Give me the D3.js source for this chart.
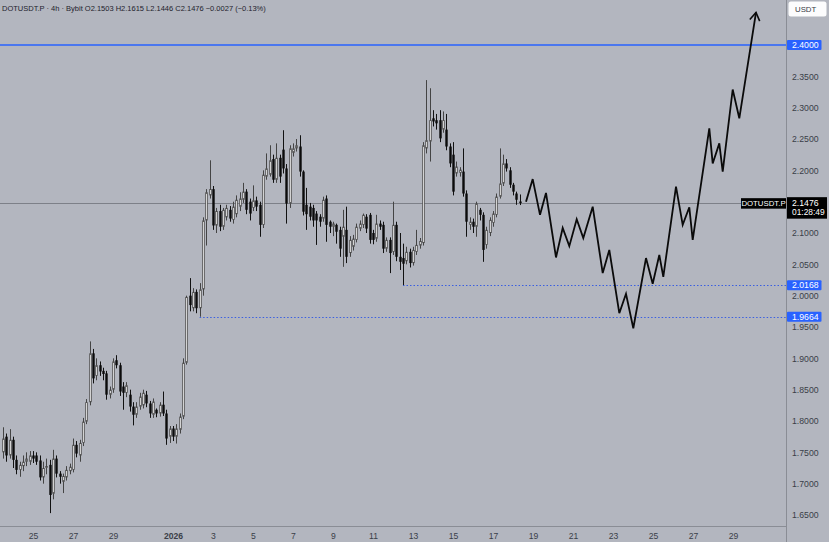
<!DOCTYPE html>
<html><head><meta charset="utf-8">
<script src="https://cdn.jsdelivr.net/npm/d3@7"></script>
<style>
html,body{margin:0;padding:0;background:#b3b6bf;}
svg{display:block;font-family:"Liberation Sans",Arial,sans-serif;}
</style></head><body>
<svg id="c" width="829" height="542"></svg>
<script>
// ---------- data ----------
const symbol = "DOTUSDT.P";
const headerText = "DOTUSDT.P · 4h · Bybit  O2.1503 H2.1615 L2.1446 C2.1476 −0.0027 (−0.13%)";
const firstCandle = "2025-12-23T12:00:00Z";
const candleHours = 4;
const opens = [1.750,1.775,1.745,1.770,1.738,1.722,1.728,1.735,1.735,1.745,1.745,1.737,1.710,1.725,1.730,1.684,1.740,1.716,1.703,1.710,
1.720,1.722,1.762,1.745,1.765,1.799,1.830,1.908,1.872,1.889,1.880,1.876,1.842,1.850,1.897,1.889,1.855,1.845,1.842,1.823,
1.810,1.823,1.825,1.842,1.828,1.810,1.818,1.812,1.826,1.812,1.775,1.788,1.775,1.786,1.807,1.893,2.000,1.980,2.006,1.980,
2.010,2.120,2.160,2.170,2.112,2.135,2.110,2.125,2.137,2.121,2.130,2.142,2.153,2.166,2.150,2.140,2.152,2.145,2.113,2.190,
2.193,2.218,2.185,2.220,2.233,2.203,2.147,2.228,2.235,2.238,2.198,2.145,2.142,2.140,2.131,2.126,2.123,2.155,2.118,2.110,
2.113,2.105,2.094,2.105,2.068,2.078,2.089,2.107,2.113,2.126,2.129,2.100,2.091,2.115,2.113,2.075,2.089,2.070,2.113,2.062,
2.060,2.055,2.070,2.052,2.070,2.080,2.084,2.235,2.246,2.283,2.280,2.280,2.265,2.265,2.238,2.225,2.195,2.196,2.198,2.163,
2.113,2.118,2.110,2.137,2.129,2.081,2.100,2.116,2.129,2.158,2.179,2.211,2.200,2.177,2.163,2.1503];
const highs = [1.790,1.780,1.787,1.775,1.745,1.735,1.745,1.750,1.752,1.752,1.750,1.745,1.735,1.740,1.738,1.754,1.745,1.720,1.716,1.728,
1.732,1.772,1.768,1.770,1.805,1.835,1.927,1.915,1.900,1.895,1.885,1.880,1.855,1.900,1.905,1.893,1.862,1.862,1.850,1.830,
1.830,1.845,1.850,1.848,1.832,1.836,1.820,1.830,1.847,1.818,1.792,1.792,1.795,1.812,1.900,2.000,2.028,2.012,2.010,2.020,
2.125,2.170,2.216,2.175,2.140,2.145,2.140,2.145,2.143,2.150,2.160,2.165,2.180,2.170,2.155,2.176,2.158,2.150,2.200,2.227,
2.240,2.225,2.243,2.225,2.264,2.210,2.240,2.243,2.250,2.256,2.200,2.172,2.148,2.145,2.135,2.130,2.158,2.160,2.120,2.118,
2.115,2.110,2.137,2.142,2.095,2.097,2.115,2.120,2.131,2.130,2.132,2.105,2.129,2.120,2.118,2.093,2.093,2.150,2.118,2.100,
2.083,2.078,2.075,2.078,2.105,2.092,2.245,2.344,2.331,2.296,2.290,2.296,2.294,2.290,2.243,2.245,2.214,2.205,2.235,2.168,
2.125,2.123,2.150,2.140,2.133,2.110,2.125,2.135,2.163,2.235,2.225,2.218,2.205,2.180,2.166,2.1615];
const lows = [1.740,1.735,1.740,1.725,1.715,1.711,1.720,1.728,1.730,1.733,1.730,1.705,1.700,1.715,1.653,1.675,1.710,1.700,1.685,1.705,
1.715,1.718,1.742,1.735,1.760,1.795,1.825,1.860,1.865,1.872,1.865,1.834,1.836,1.845,1.884,1.840,1.818,1.838,1.815,1.793,
1.805,1.818,1.820,1.822,1.805,1.805,1.806,1.807,1.808,1.762,1.765,1.768,1.764,1.780,1.803,1.890,1.975,1.975,1.972,1.9664,
2.000,2.080,2.155,2.105,2.100,2.103,2.105,2.120,2.118,2.115,2.125,2.135,2.148,2.130,2.120,2.135,2.135,2.094,2.108,2.185,
2.190,2.180,2.180,2.180,2.195,2.115,2.140,2.222,2.230,2.190,2.128,2.105,2.120,2.110,2.081,2.110,2.118,2.086,2.100,2.095,
2.083,2.062,2.046,2.052,2.062,2.072,2.085,2.103,2.108,2.100,2.083,2.082,2.086,2.105,2.068,2.070,2.036,2.065,2.055,2.041,
2.0168,2.050,2.045,2.048,2.065,2.075,2.080,2.227,2.214,2.270,2.265,2.245,2.260,2.232,2.205,2.160,2.190,2.190,2.158,2.094,
2.105,2.100,2.094,2.120,2.054,2.075,2.095,2.110,2.125,2.155,2.175,2.198,2.172,2.160,2.145,2.1446];
const closes = [1.772,1.745,1.770,1.738,1.722,1.730,1.735,1.740,1.745,1.740,1.735,1.710,1.725,1.728,1.682,1.740,1.716,1.711,1.712,1.722,
1.727,1.762,1.748,1.765,1.799,1.830,1.908,1.868,1.889,1.879,1.875,1.842,1.850,1.895,1.889,1.847,1.845,1.857,1.823,1.810,
1.823,1.839,1.845,1.828,1.812,1.831,1.812,1.826,1.812,1.772,1.788,1.775,1.788,1.807,1.893,1.998,1.985,2.006,1.980,2.010,
2.120,2.165,2.170,2.112,2.135,2.110,2.137,2.140,2.123,2.142,2.153,2.155,2.166,2.137,2.131,2.152,2.142,2.113,2.193,2.203,
2.216,2.185,2.220,2.190,2.203,2.147,2.235,2.235,2.240,2.198,2.134,2.130,2.126,2.120,2.120,2.118,2.153,2.113,2.110,2.115,
2.102,2.075,2.110,2.062,2.089,2.091,2.110,2.115,2.129,2.107,2.089,2.089,2.115,2.110,2.075,2.089,2.068,2.113,2.062,2.054,
2.051,2.070,2.052,2.073,2.081,2.087,2.240,2.248,2.280,2.278,2.275,2.251,2.280,2.238,2.211,2.166,2.206,2.201,2.163,2.118,
2.118,2.110,2.147,2.129,2.073,2.105,2.121,2.131,2.158,2.179,2.211,2.203,2.177,2.166,2.153,2.1476];

// projected path: days since 2026-01-01 00:00 UTC, and price
const projDays = [17.65,17.985,18.35,18.65,19.15,19.485,19.815,20.185,20.515,20.985,21.485,21.815,22.315,22.65,23.015,
23.65,23.985,24.315,24.515,25.15,25.485,25.815,25.985,26.815,26.985,27.315,27.485,27.985,28.315,29.15];
const projPrices = [2.150,2.186,2.129,2.164,2.061,2.108,2.079,2.122,2.092,2.142,2.036,2.073,1.972,2.003,1.948,
2.060,2.019,2.065,2.030,2.174,2.113,2.141,2.089,2.267,2.211,2.243,2.198,2.329,2.283,2.452];

const lastPrice = 2.1476;
const countdown = "01:28:49";
const resistance = 2.4000;
const supportLevels = [2.0168, 1.9664];
const priceTicks = [2.35,2.30,2.25,2.20,2.15,2.10,2.05,2.00,1.95,1.90,1.85,1.80,1.75,1.70,1.65];
const dateTicks = ["2025-12-25","2025-12-27","2025-12-29","2026-01-01","2026-01-03","2026-01-05","2026-01-07","2026-01-09",
"2026-01-11","2026-01-13","2026-01-15","2026-01-17","2026-01-19","2026-01-21","2026-01-23","2026-01-25","2026-01-27","2026-01-29"];
const dateLabels = ["25","27","29","2026","3","5","7","9","11","13","15","17","19","21","23","25","27","29"];
const quote = "USDT";

// ---------- layout ----------
const W = 829, H = 542, plotR = 786.5, plotB = 526.5;
const DAY = 864e5;
const jan1 = Date.UTC(2026,0,1);
const svg = d3.select("#c");
const bg = "#b3b6bf";
svg.append("rect").attr("width",W).attr("height",H).attr("fill",bg);

const x = d3.scaleUtc()
  .domain([new Date(jan1 - 8.65*DAY), new Date(jan1 + 30.65*DAY)])
  .range([0, 786]);
const y = d3.scaleLinear().domain([1.65, 2.4]).range([515, 45]);

const t0 = Date.parse(firstCandle);
const candles = closes.map((c,i)=>({t:new Date(t0 + i*candleHours*3600e3), o:opens[i], h:highs[i], l:lows[i], c}));

svg.append("clipPath").attr("id","plot").append("rect").attr("width",plotR).attr("height",plotB);
const g = svg.append("g").attr("clip-path","url(#plot)");

const blue = "#2962ff";
// resistance line
g.append("line").attr("x1",0).attr("x2",plotR).attr("y1",y(resistance)).attr("y2",y(resistance))
  .attr("stroke",blue).attr("stroke-width",1.4);
// current price line
g.append("line").attr("x1",0).attr("x2",plotR).attr("y1",Math.round(y(lastPrice))+0.5).attr("y2",Math.round(y(lastPrice))+0.5)
  .attr("stroke","#7d8088").attr("stroke-width",1);
// support dotted lines starting from the candle that made the low
supportLevels.forEach(lv=>{
  const idx = lows.findIndex(v=>Math.abs(v-lv)<1e-6);
  const xs = x(candles[idx].t);
  g.append("line").attr("x1",xs).attr("x2",plotR).attr("y1",Math.round(y(lv))+0.5).attr("y2",Math.round(y(lv))+0.5)
    .attr("stroke","#3a5fe0").attr("stroke-width",1).attr("stroke-dasharray","1.5,2");
});

// candles
const bw = 2.4;
const cg = g.append("g");
candles.forEach(d=>{
  const cx = Math.round(x(d.t)) + 0.5;
  const up = d.c >= d.o;
  cg.append("line").attr("x1",cx).attr("x2",cx).attr("y1",y(d.h)).attr("y2",y(d.l))
    .attr("stroke", up ? "#444" : "#111").attr("stroke-width",1);
  const top = y(Math.max(d.o,d.c)), bot = y(Math.min(d.o,d.c));
  if (up) {
    cg.append("rect").attr("x",cx-bw/2+0.4).attr("width",bw-0.8).attr("y",top+0.4).attr("height",Math.max(0.6,bot-top-0.8))
      .attr("fill","#f7f7f7").attr("stroke","#444").attr("stroke-width",0.8);
  } else {
    cg.append("rect").attr("x",cx-bw/2).attr("width",bw).attr("y",top).attr("height",Math.max(1,bot-top))
      .attr("fill","#0b0b0b");
  }
});

// projection path with arrow
const defs = svg.append("defs");
defs.append("marker").attr("id","arr").attr("viewBox","-10 -6 12 12").attr("refX",0).attr("refY",0)
  .attr("markerWidth",12).attr("markerHeight",12).attr("markerUnits","userSpaceOnUse").attr("orient","auto")
  .append("path").attr("d","M-8,-5L0,0L-8,5").attr("fill","none").attr("stroke","#0a0a0a").attr("stroke-width",1.6);
const proj = projDays.map((d,i)=>[x(new Date(jan1 + d*DAY)), y(projPrices[i])]);
svg.append("path").attr("d", d3.line()(proj)).attr("fill","none").attr("stroke","#0a0a0a")
  .attr("stroke-width",1.8).attr("stroke-linejoin","miter").attr("marker-end","url(#arr)");

// frame lines
svg.append("line").attr("x1",plotR).attr("x2",plotR).attr("y1",0).attr("y2",H).attr("stroke","#8a8d95").attr("stroke-width",1);
svg.append("line").attr("x1",0).attr("x2",plotR).attr("y1",plotB).attr("y2",plotB).attr("stroke","#8a8d95").attr("stroke-width",1);

// price axis
const fs = 8.7;
const yAxis = d3.axisRight(y).tickValues(priceTicks).tickFormat(d3.format(".4f")).tickSize(0).tickPadding(0);
const ya = svg.append("g").attr("transform",`translate(${792},0)`).call(yAxis);
ya.select(".domain").remove();
ya.selectAll("text").attr("font-size",fs).attr("fill","#3a3e48").attr("font-family","Liberation Sans, Arial, sans-serif");

// date axis
const xAxis = d3.axisBottom(x).tickValues(dateTicks.map(s=>new Date(s+"T00:00:00Z")))
  .tickFormat((d,i)=>dateLabels[i]).tickSize(0).tickPadding(0);
const xa = svg.append("g").attr("transform",`translate(0,${533})`).call(xAxis);
xa.select(".domain").remove();
xa.selectAll("text").attr("font-size",8.6).attr("fill","#3a3e48").attr("font-family","Liberation Sans, Arial, sans-serif")
  .attr("font-weight",(d,i)=>dateLabels[i]==="2026"?"bold":"normal");

// level labels on axis
function axisLabel(p, fill, txt){
  const yy = y(p);
  svg.append("rect").attr("x",787).attr("y",yy-5).attr("width",34.5).attr("height",10).attr("fill",fill).attr("rx",1);
  svg.append("text").attr("x",792).attr("y",yy+3.2).attr("font-size",fs).attr("fill","#fff").text(txt);
}
axisLabel(resistance, blue, resistance.toFixed(4));
supportLevels.forEach(lv=>axisLabel(lv, blue, lv.toFixed(4)));

// current price label
const yl = y(lastPrice);
svg.append("rect").attr("x",787).attr("y",yl-6).attr("width",40).attr("height",21.5).attr("fill","#000");
svg.append("text").attr("x",792).attr("y",yl+3.2).attr("font-size",fs).attr("fill","#fff").text(lastPrice.toFixed(4));
svg.append("text").attr("x",792).attr("y",yl+12).attr("font-size",fs-0.3).attr("fill","#fff").text(countdown);
svg.append("rect").attr("x",741).attr("y",yl-5).attr("width",45).attr("height",10.5).attr("fill","#000");
svg.append("text").attr("x",763.5).attr("y",yl+3).attr("text-anchor","middle").attr("font-size",7.8).attr("fill","#fff").text(symbol);

// quote currency box
svg.append("rect").attr("x",788.5).attr("y",1.5).attr("width",38).attr("height",15).attr("rx",2.5).attr("fill","#fcfcfd");
svg.append("text").attr("x",795).attr("y",12).attr("font-size",7.8).attr("fill","#363a45").text(quote);

// header
svg.append("text").attr("x",2).attr("y",11).attr("font-size",7.5).attr("fill","#1e222d").text(headerText);
</script>
</body></html>
